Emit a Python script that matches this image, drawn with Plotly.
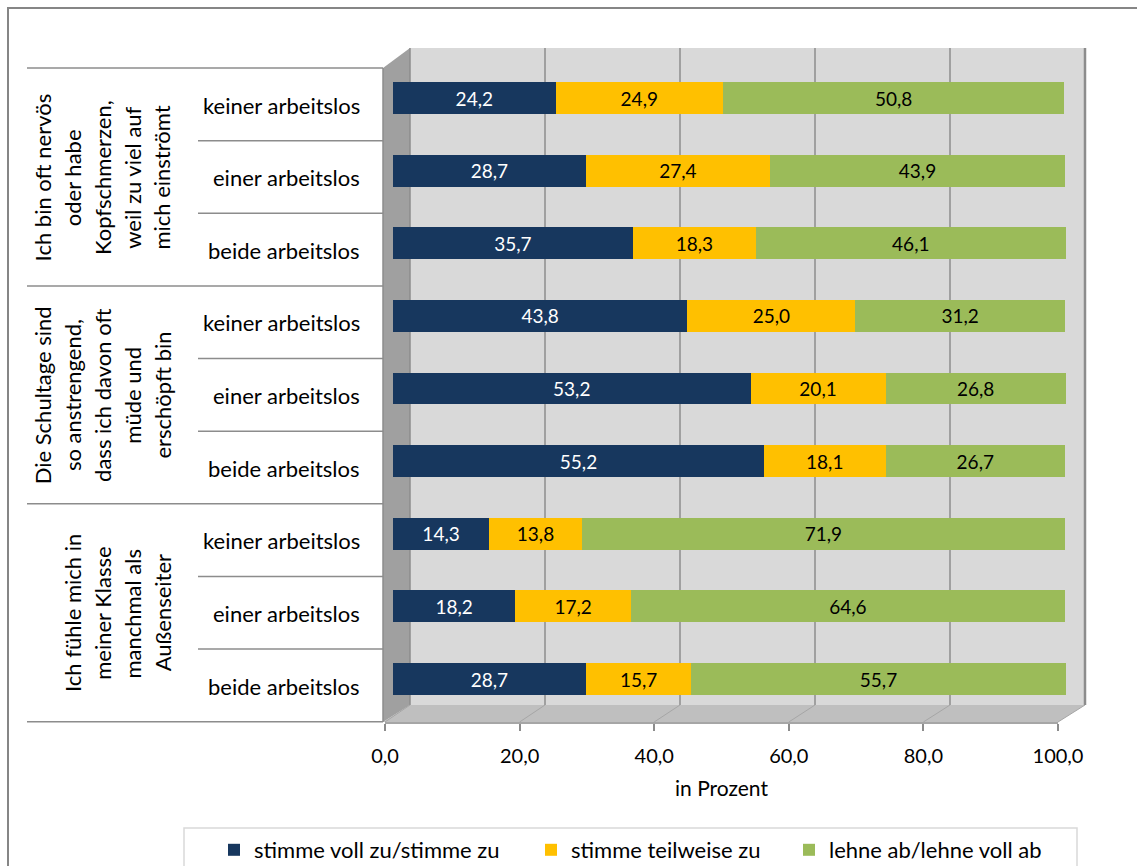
import plotly.graph_objects as go

# ---------------- data ----------------
group_lines = [
    ["Ich bin oft nervös", "oder habe", "Kopfschmerzen,", "weil zu viel auf", "mich einströmt"],
    ["Die Schultage sind", "so anstrengend,", "dass ich davon oft", "müde und", "erschöpft bin"],
    ["Ich fühle mich in", "meiner Klasse", "manchmal als", "Außenseiter"],
]
sub_labels = ["keiner arbeitslos", "einer arbeitslos", "beide arbeitslos"]
series_names = ["stimme voll zu/stimme zu", "stimme teilweise zu", "lehne ab/lehne voll ab"]
stimme_zu = [24.2, 28.7, 35.7, 43.8, 53.2, 55.2, 14.3, 18.2, 28.7]
teilweise = [24.9, 27.4, 18.3, 25.0, 20.1, 18.1, 13.8, 17.2, 15.7]
lehne_ab = [50.8, 43.9, 46.1, 31.2, 26.8, 26.7, 71.9, 64.6, 55.7]
x_ticks = [0, 20, 40, 60, 80, 100]
x_title = "in Prozent"

# ---------------- style ----------------
W, H = 1137, 866
FONT = "Lato"
colors = ["#17375E", "#FFC000", "#9BBB59"]
text_colors = ["white", "black", "black"]
legend_px = [214, 531, 789]   # left edge of each legend entry (pixels)

# plot area in pixels
PL, PR, PT, PB = 383, 1085, 48, 722


def px_x(px):
    return (px - PL) / (PR - PL)


def px_y(py):
    return (PB - py) / (PB - PT)


# bar scale: 0 -> 393px, 6.72 px per unit
x0_px, x_scale = 393, 6.72
x_range = [(PL - x0_px) / x_scale, (PR - x0_px) / x_scale]
# rows: row 0 centred at 98px, 72.625 px apart
row0_px, row_h = 98, 72.625
y_range = [(PB - row0_px) / row_h, (PT - row0_px) / row_h]

rows = list(range(len(stimme_zu)))
n_rows = len(rows)

fig = go.Figure()
legend_ids = ["legend", "legend2", "legend3"]
for name, vals, col, tcol, lid in zip(series_names, [stimme_zu, teilweise, lehne_ab],
                                      colors, text_colors, legend_ids):
    fig.add_trace(go.Bar(
        y=rows, x=vals, name=name, orientation="h", legend=lid,
        marker=dict(color=col, line=dict(width=0)),
        width=0.44,
        texttemplate="%{x:.1f}", textposition="inside", insidetextanchor="middle",
        textfont=dict(family=FONT, size=19, color=tcol),
        constraintext="none", hoverinfo="skip",
    ))
# carrier trace so that the front (floor) axis is drawn
fig.add_trace(go.Scatter(x=[None], y=[None], xaxis="x2", yaxis="y2",
                         showlegend=False, hoverinfo="skip"))

shapes = []
# outer border
shapes.append(dict(type="rect", xref="paper", yref="paper",
                   x0=px_x(8), x1=px_x(1150), y0=px_y(8), y1=px_y(890),
                   line=dict(color="#868686", width=2), fillcolor="rgba(0,0,0,0)", layer="below"))
# back wall
BW_L, BW_R, BW_T, BW_B = 410, 1085, 48, 705
FL_L, FL_R = 385, 1058
shapes.append(dict(type="rect", xref="paper", yref="paper",
                   x0=px_x(BW_L), x1=px_x(BW_R), y0=px_y(BW_B), y1=px_y(BW_T),
                   fillcolor="#d9d9d9", line=dict(width=0), layer="below"))
# floor
shapes.append(dict(type="path", xref="paper", yref="paper",
                   path=f"M{px_x(383)},{px_y(722)} L{px_x(BW_L)},{px_y(BW_B)} L{px_x(BW_R)},{px_y(BW_B)} L{px_x(FL_R)},{px_y(722)} Z",
                   fillcolor="#bfbfbf", line=dict(width=0), layer="below"))
# left wall
shapes.append(dict(type="path", xref="paper", yref="paper",
                   path=f"M{px_x(383)},{px_y(68)} L{px_x(BW_L)},{px_y(BW_T)} L{px_x(BW_L)},{px_y(BW_B)} L{px_x(383)},{px_y(722)} Z",
                   fillcolor="#a0a0a0", line=dict(width=0), layer="below"))
# gridlines on back wall and floor
for v in x_ticks:
    bx = BW_L + (BW_R - BW_L) * v / 100
    fx = FL_L + (FL_R - FL_L) * v / 100
    shapes.append(dict(type="line", xref="paper", yref="paper",
                       x0=px_x(bx), x1=px_x(bx), y0=px_y(BW_T), y1=px_y(BW_B),
                       line=dict(color="#8c8c8c", width=1.5 if v < 100 else 2.5), layer="below"))
    shapes.append(dict(type="line", xref="paper", yref="paper",
                       x0=px_x(fx), x1=px_x(bx), y0=px_y(722), y1=px_y(BW_B),
                       line=dict(color="#a6a6a6", width=1), layer="below"))
# left axis line
shapes.append(dict(type="line", xref="paper", yref="paper",
                   x0=px_x(383), x1=px_x(383), y0=px_y(68), y1=px_y(722),
                   line=dict(color="#8c8c8c", width=1.5), layer="below"))
# table lines (row boundaries)
for k in range(n_rows + 1):
    py = 68 + row_h * k
    xs = 27 if k % 3 == 0 else 198
    shapes.append(dict(type="line", xref="paper", yref="paper",
                       x0=px_x(xs), x1=px_x(383), y0=px_y(py), y1=px_y(py),
                       line=dict(color="#8c8c8c", width=1.5), layer="below"))
# legend box
shapes.append(dict(type="rect", xref="paper", yref="paper",
                   x0=px_x(184), x1=px_x(1077), y0=px_y(828), y1=px_y(900),
                   line=dict(color="#d9d9d9", width=1.5), fillcolor="rgba(0,0,0,0)", layer="below"))

annotations = []
label_off = 7 / row_h
for i in rows:
    annotations.append(dict(
        text=sub_labels[i % 3], x=px_x(362), xref="paper", xanchor="right",
        y=i + label_off, yref="y", yanchor="middle", showarrow=False,
        font=dict(family=FONT, size=22, color="black")))
for g, lines in enumerate(group_lines):
    yc = 3 * g + 1 + label_off
    n = len(lines)
    for j, line in enumerate(lines):
        cx = 162 - 29.8 * (n - 1 - j)
        annotations.append(dict(
            text=line, textangle=-90, x=px_x(cx), xref="paper", xanchor="center",
            y=yc, yref="y", yanchor="middle", showarrow=False,
            font=dict(family=FONT, size=22, color="black")))

legend_common = dict(orientation="h", xanchor="left", yanchor="middle", y=px_y(850),
                     font=dict(family=FONT, size=22, color="black"), bgcolor="rgba(0,0,0,0)",
                     borderwidth=0, itemclick=False, itemdoubleclick=False)

fig.update_layout(
    width=W, height=H,
    margin=dict(l=PL, r=W - PR, t=PT, b=H - PB, pad=0, autoexpand=False),
    paper_bgcolor="white", plot_bgcolor="rgba(0,0,0,0)",
    barmode="stack", separators=",.",
    font=dict(family=FONT, size=20, color="black"),
    xaxis=dict(range=x_range, showgrid=False, zeroline=False, showticklabels=False,
               showline=False, ticks="", fixedrange=True),
    yaxis=dict(range=y_range, showgrid=False, zeroline=False, showticklabels=False,
               showline=False, ticks="", fixedrange=True),
    xaxis2=dict(domain=[px_x(FL_L), px_x(FL_R)], anchor="y2", range=[0, 100],
                tickvals=x_ticks, tickformat=".1f", ticks="outside", ticklen=7,
                ticklabelstandoff=8,
                tickcolor="#8c8c8c", tickwidth=1.5, showgrid=False, zeroline=False,
                showline=True, linecolor="#a6a6a6", linewidth=1.5, fixedrange=True,
                tickfont=dict(family=FONT, size=20, color="black"),
                title=dict(text=x_title, font=dict(family=FONT, size=21, color="black"), standoff=16)),
    yaxis2=dict(domain=[0, 0.001], anchor="x2", range=[0, 1], visible=False, fixedrange=True),
    showlegend=True,
    legend=dict(x=px_x(legend_px[0]), **legend_common),
    legend2=dict(x=px_x(legend_px[1]), **legend_common),
    legend3=dict(x=px_x(legend_px[2]), **legend_common),
    shapes=shapes, annotations=annotations,
)

fig.write_html("out.html", config={"displayModeBar": False},
               post_script="document.body.style.margin='0';")
